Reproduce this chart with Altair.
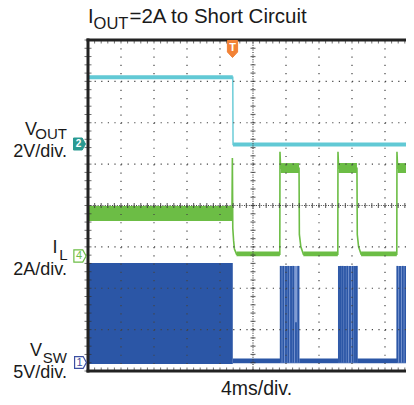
import altair as alt
import pandas as pd
import numpy as np

# ---------------- data (time in ms, 4 ms/div; physical units) ----------------
ch_offset = {"VOUT": 5.45, "IL": 2.80, "VSW": 0.20}
ch_scale = {"VOUT": 2.0, "IL": 2.0, "VSW": 5.0}

vout_t = [0.0, 17.55, 17.58, 39.6]
vout_v = [3.3, 3.3, 0.05, 0.05]
vout_band_t0 = [0.0, 17.58]
vout_band_t1 = [17.55, 39.6]
vout_band_lo = [3.2, -0.05]
vout_band_hi = [3.4, 0.15]

il_t = [17.45, 17.5, 17.55, 17.65, 17.75, 18.0, 23.25, 23.27, 23.35, 25.58, 25.62, 25.8, 26.1,
        30.28, 30.3, 30.38, 32.6, 32.64, 32.8, 33.1, 37.43, 37.45, 37.53, 39.6]
il_a = [2.0, 4.7, 1.3, 0.7, 0.3, 0.05, 0.05, 5.0, 4.2, 4.2, 1.0, 0.4, 0.05,
        0.05, 5.0, 4.2, 4.2, 1.0, 0.4, 0.05, 0.05, 5.0, 4.2, 4.2]
il_band_t0 = [0.0, 18.0, 23.35, 26.1, 30.38, 33.1, 37.53]
il_band_t1 = [17.5, 23.25, 25.58, 30.28, 32.6, 37.43, 39.6]
il_band_lo = [1.65, -0.05, 3.97, -0.05, 3.97, -0.05, 3.97]
il_band_hi = [2.38, 0.18, 4.45, 0.18, 4.45, 0.18, 4.45]

vsw_band_t0 = [0.0, 17.55]
vsw_band_t1 = [17.55, 39.6]
vsw_band_lo = [-0.15, -0.05]
vsw_band_hi = [12.05, 0.5]
burst_t0 = [23.27, 30.30, 37.45]
burst_t1 = [25.64, 32.67, 39.6]
burst_hi = [11.7, 11.7, 11.7]
strip_t = [23.36, 23.67, 24.0, 24.28, 24.61, 24.88, 25.21, 25.49,
           30.42, 30.63, 30.87, 31.15, 31.43, 31.76, 32.08, 32.36, 32.57,
           37.49, 37.82, 38.15, 38.46, 38.82, 39.15, 39.43]
strip_hi = [11.7, 11.7, 11.7, 11.7, 11.7, 11.7, 4.9, 11.7,
            11.7, 11.7, 11.7, 11.7, 11.7, 11.7, 11.7, 11.7, 11.7,
            11.7, 11.7, 11.7, 11.7, 11.7, 11.7, 11.7]

# ---------------- colours / layout ----------------
C_VSW = "#2b56a6"
C_VSW_L = "#7f9bd3"
C_IL = "#6cbd45"
C_VOUT = "#62c9d5"
C_TEAL = "#2a9a92"
C_ORANGE = "#f28236"
FONT = "Liberation Sans"
W, H = 318, 331
XMAX = W * 4.0 / 33.0


def div(ch, vals):
    return [ch_offset[ch] + v / ch_scale[ch] for v in vals]


xs = alt.Scale(domain=[0, XMAX], nice=False, zero=False)
ys = alt.Scale(domain=[0, 8], nice=False, zero=False)

rects = []
for t0, t1, lo, hi in zip(vsw_band_t0, vsw_band_t1, div("VSW", vsw_band_lo), div("VSW", vsw_band_hi)):
    rects.append(dict(t0=t0, t1=t1, y0=lo, y1=hi, color=C_VSW, z=0))
for t0, t1, hi in zip(burst_t0, burst_t1, div("VSW", burst_hi)):
    rects.append(dict(t0=t0, t1=t1, y0=ch_offset["VSW"], y1=hi, color=C_VSW_L, z=1))
for t0, t1, lo, hi in zip(il_band_t0, il_band_t1, div("IL", il_band_lo), div("IL", il_band_hi)):
    rects.append(dict(t0=t0, t1=t1, y0=lo, y1=hi, color=C_IL, z=2))
for t0, t1, lo, hi in zip(vout_band_t0, vout_band_t1, div("VOUT", vout_band_lo), div("VOUT", vout_band_hi)):
    rects.append(dict(t0=t0, t1=t1, y0=lo, y1=hi, color=C_VOUT, z=3))
rect_df = pd.DataFrame(rects)

strip_df = pd.DataFrame({"t": strip_t, "y0": ch_offset["VSW"], "y1": div("VSW", strip_hi)})
il_df = pd.DataFrame({"t": il_t, "y": div("IL", il_a), "o": range(len(il_t))})
vout_df = pd.DataFrame({"t": vout_t, "y": div("VOUT", vout_v), "o": range(len(vout_t))})

bands_vsw = alt.Chart(rect_df[rect_df.z <= 1]).mark_rect(clip=True).encode(
    x=alt.X("t0:Q", scale=xs, axis=None), x2="t1",
    y=alt.Y("y0:Q", scale=ys, axis=None), y2="y1",
    color=alt.Color("color:N", scale=None))
strips = alt.Chart(strip_df).mark_rule(color=C_VSW, strokeWidth=1.8, clip=True).encode(
    x=alt.X("t:Q", scale=xs), y=alt.Y("y0:Q", scale=ys), y2="y1")
bands_top = alt.Chart(rect_df[rect_df.z >= 2]).mark_rect(clip=True).encode(
    x=alt.X("t0:Q", scale=xs), x2="t1",
    y=alt.Y("y0:Q", scale=ys), y2="y1",
    color=alt.Color("color:N", scale=None))
il_line = alt.Chart(il_df).mark_line(color=C_IL, strokeWidth=1.6, clip=True).encode(
    x=alt.X("t:Q", scale=xs), y=alt.Y("y:Q", scale=ys), order="o:Q")
vout_line = alt.Chart(vout_df).mark_line(color=C_VOUT, strokeWidth=1.4, clip=True).encode(
    x=alt.X("t:Q", scale=xs), y=alt.Y("y:Q", scale=ys), order="o:Q")

# ---------------- graticule ----------------
vgrid = [4, 8, 12, 16, 24, 28, 32, 36]
hgrid = [1, 2, 3, 5, 6, 7]
minor_t = list(np.round(np.arange(0, 40.01, 0.8), 3))
minor_y = list(np.round(np.arange(0, 8.01, 0.2), 3))

GRID = "#444444"
vg = alt.Chart(pd.DataFrame({"t": vgrid})).mark_rule(color=GRID, strokeWidth=1.2, strokeDash=[1.2, 7.08], clip=True).encode(
    x=alt.X("t:Q", scale=xs), y=alt.value(0), y2=alt.value(H))
hg = alt.Chart(pd.DataFrame({"y": hgrid})).mark_rule(color=GRID, strokeWidth=1.2, strokeDash=[1.2, 5.4]).encode(
    y=alt.Y("y:Q", scale=ys), x=alt.value(0), x2=alt.value(W))
vc = alt.Chart(pd.DataFrame({"t": [20]})).mark_rule(color=GRID, strokeWidth=1.2, strokeDash=[1, 1.4]).encode(
    x=alt.X("t:Q", scale=xs), y=alt.value(0), y2=alt.value(H))
hc = alt.Chart(pd.DataFrame({"y": [4]})).mark_rule(color=GRID, strokeWidth=1.2, strokeDash=[1, 1.4]).encode(
    y=alt.Y("y:Q", scale=ys), x=alt.value(0), x2=alt.value(W))
vc_ticks = alt.Chart(pd.DataFrame({"y": minor_y})).mark_tick(orient="horizontal", color="#333333", size=5, thickness=1.2).encode(
    y=alt.Y("y:Q", scale=ys), x=alt.value(165))
hc_ticks = alt.Chart(pd.DataFrame({"t": minor_t})).mark_tick(orient="vertical", color="#333333", size=5, thickness=1.2, clip=True).encode(
    x=alt.X("t:Q", scale=xs), y=alt.value(H / 2))
top_ticks = alt.Chart(pd.DataFrame({"t": minor_t})).mark_tick(orient="vertical", color="#333333", size=7, thickness=1, clip=True).encode(
    x=alt.X("t:Q", scale=xs), y=alt.value(0))
bot_ticks = alt.Chart(pd.DataFrame({"t": minor_t})).mark_tick(orient="vertical", color="#333333", size=7, thickness=1, clip=True).encode(
    x=alt.X("t:Q", scale=xs), y=alt.value(H))
left_ticks = alt.Chart(pd.DataFrame({"y": minor_y})).mark_tick(orient="horizontal", color="#333333", size=7, thickness=1).encode(
    y=alt.Y("y:Q", scale=ys), x=alt.value(0))

one = pd.DataFrame({"a": [0]})
BORDER = "#222222"
b_left = alt.Chart(one).mark_rule(color=BORDER, strokeWidth=3).encode(x=alt.value(0), y=alt.value(-1.5), y2=alt.value(H + 1.5))
b_top = alt.Chart(one).mark_rule(color=BORDER, strokeWidth=3).encode(x=alt.value(-1.5), x2=alt.value(W), y=alt.value(0))
b_bot = alt.Chart(one).mark_rule(color=BORDER, strokeWidth=3).encode(x=alt.value(-1.5), x2=alt.value(W), y=alt.value(H))


def txt(s, x, y, size, align="left", color="#1a1a1a", baseline="alphabetic", weight="normal"):
    return alt.Chart(one).mark_text(text=s, font=FONT, fontSize=size, align=align, baseline=baseline,
                                    color=color, fontWeight=weight).encode(x=alt.value(x), y=alt.value(y))


def sym(path, x, y, size, fill, stroke, sw=1.0):
    return alt.Chart(one).mark_point(shape=path, size=size, filled=True, fill=fill, stroke=stroke,
                                     strokeWidth=sw, opacity=1).encode(x=alt.value(x), y=alt.value(y))


ARROW = "M-1,-1H0.45L1,0L0.45,1H-1Z"
SHIELD = "M-0.6,-1H0.6V0.35L0,1L-0.6,0.35Z"

texts = [
    txt("I", 0, -17, 20), txt("OUT", 5.6, -11.5, 16.5), txt("=2A to Short Circuit", 41.5, -17, 20.5),
    txt("V", -51, 95, 18, "right"), txt("OUT", -21, 99, 15, "right"), txt("2V/div.", -21, 117, 18, "right"),
    txt("I", -30.5, 213, 18, "right"), txt("L", -20.5, 219.5, 15, "right"), txt("2A/div.", -21, 234.5, 18, "right"),
    txt("V", -46, 316, 18, "right"), txt("SW", -21, 323, 15, "right"), txt("5V/div.", -21, 338, 18, "right"),
    txt("4ms/div.", 168.5, 355, 19.5, "center"),
]
markers = [
    sym(ARROW, -8.5, 104, 144, C_TEAL, C_TEAL),
    txt("2", -9.5, 104, 10, "center", "white", "middle", "bold"),
    sym(ARROW, -8, 216, 150, "white", C_IL, 1.2),
    txt("4", -9, 216, 11, "center", C_IL, "middle"),
    sym(ARROW, -7.5, 322.5, 140, "white", "#3b4fa2", 1.2),
    txt("1", -8.5, 322.5, 11, "center", "#3b4fa2", "middle"),
    sym(SHIELD, 144.5, 9, 289, C_ORANGE, C_ORANGE),
    txt("T", 144.5, 8, 11, "center", "white", "middle", "bold"),
]

chart = alt.layer(
    bands_vsw, strips, bands_top, il_line, vout_line,
    vg, hg, vc, hc, vc_ticks, hc_ticks, top_ticks, bot_ticks, left_ticks,
    b_left, b_top, b_bot,
    *texts, *markers,
).properties(
    width=W, height=H,
    autosize=alt.AutoSizeParams(type="none"),
    padding={"left": 80, "top": 32, "right": 0, "bottom": 26},
).configure_view(stroke=None).configure(background="white")

chart.save("out.html", embed_options={"renderer": "svg", "actions": False})
